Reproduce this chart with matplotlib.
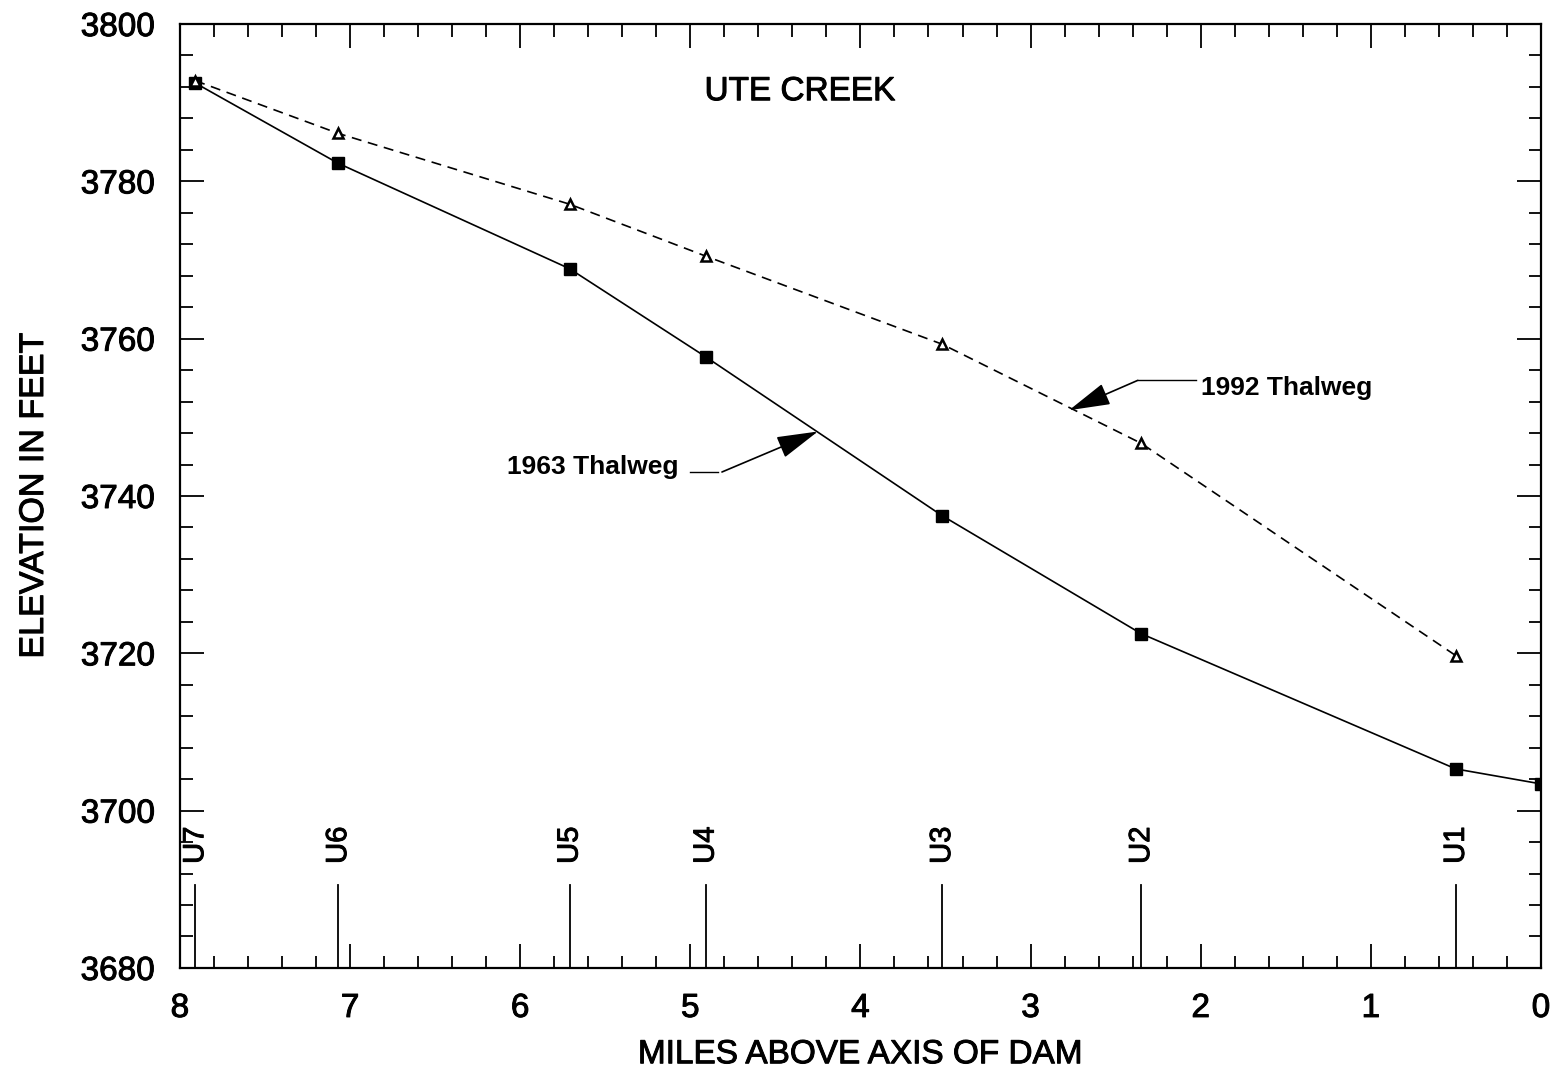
import matplotlib
matplotlib.use('Agg')
import matplotlib.pyplot as plt
import matplotlib.patheffects as pe
from matplotlib.ticker import MultipleLocator

plt.rcParams['font.family'] = ['Liberation Sans', 'DejaVu Sans']

# survey stations (miles above axis of dam)
stations = ['U7', 'U6', 'U5', 'U4', 'U3', 'U2', 'U1']
station_miles = [7.91, 7.07, 5.71, 4.91, 3.52, 2.35, 0.50]

# thalweg elevations (ft)
miles_1963 = station_miles + [0.0]
elev_1963 = [3792.5, 3782.3, 3768.9, 3757.7, 3737.5, 3722.5, 3705.3, 3703.4]
miles_1992 = station_miles
elev_1992 = [3792.8, 3786.1, 3777.1, 3770.5, 3759.3, 3746.7, 3719.7]

# slightly heavier text, like the scanned original
thick = [pe.withStroke(linewidth=0.7, foreground='black')]

fig = plt.figure(figsize=(15.66, 10.73), dpi=100)
ax = fig.add_axes([0.1149, 0.0979, 0.8691, 0.8797])

ax.plot(miles_1963, elev_1963, color='black', lw=1.2, marker='s',
        markersize=8, markerfacecolor='black', zorder=3)
ax.plot(miles_1992, elev_1992, color='black', lw=1.2, linestyle=(0, (6, 4)),
        marker='^', markersize=7, markerfacecolor='white',
        markeredgewidth=1.8, zorder=3)

# station markers along the bottom
for name, m in zip(stations, station_miles):
    ax.plot([m, m], [3680, 3690.5], color='black', lw=1.3)
    ax.text(m, 3695.6, name, rotation=90, ha='center', va='center',
            fontsize=21, path_effects=thick)

ax.text(4.355, 3791.4, 'UTE CREEK', ha='center', va='center', fontsize=24,
        path_effects=thick)

# annotations
ax.text(5.07, 3743.7, '1963 Thalweg', ha='right', va='center', fontsize=19,
        fontweight='bold')
ax.plot([5.0, 4.84], [3743.05, 3743.05], color='black', lw=1.0)
ax.annotate('', xy=(4.25, 3748.2), xytext=(4.814, 3743.05),
            arrowprops=dict(arrowstyle='-|>,head_length=1.3,head_width=0.35',
                            color='black', lw=1.2, shrinkA=0, shrinkB=0,
                            mutation_scale=20))

ax.text(2.00, 3753.7, '1992 Thalweg', ha='left', va='center', fontsize=19,
        fontweight='bold')
ax.plot([2.03, 2.37], [3754.7, 3754.7], color='black', lw=1.0)
ax.annotate('', xy=(2.774, 3750.9), xytext=(2.37, 3754.7),
            arrowprops=dict(arrowstyle='-|>,head_length=1.3,head_width=0.35',
                            color='black', lw=1.2, shrinkA=0, shrinkB=0,
                            mutation_scale=20))

ax.set_xlim(8, 0)
ax.set_ylim(3680, 3800)
ax.xaxis.set_major_locator(MultipleLocator(1))
ax.xaxis.set_minor_locator(MultipleLocator(0.2))
ax.yaxis.set_major_locator(MultipleLocator(20))
ax.yaxis.set_minor_locator(MultipleLocator(4))
ax.tick_params(which='both', direction='in', top=True, right=True, width=1.3)
ax.tick_params(which='major', length=17, labelsize=24, pad=18)
ax.tick_params(which='minor', length=9)
for lbl in ax.get_xticklabels() + ax.get_yticklabels():
    lbl.set_path_effects(thick)
for s in ax.spines.values():
    s.set_linewidth(1.6)

ax.set_xlabel('MILES ABOVE AXIS OF DAM', fontsize=24, labelpad=11,
              path_effects=thick)
ax.set_ylabel('ELEVATION IN FEET', fontsize=24.5, labelpad=22,
              path_effects=thick)

fig.savefig('out.png', dpi=100)
